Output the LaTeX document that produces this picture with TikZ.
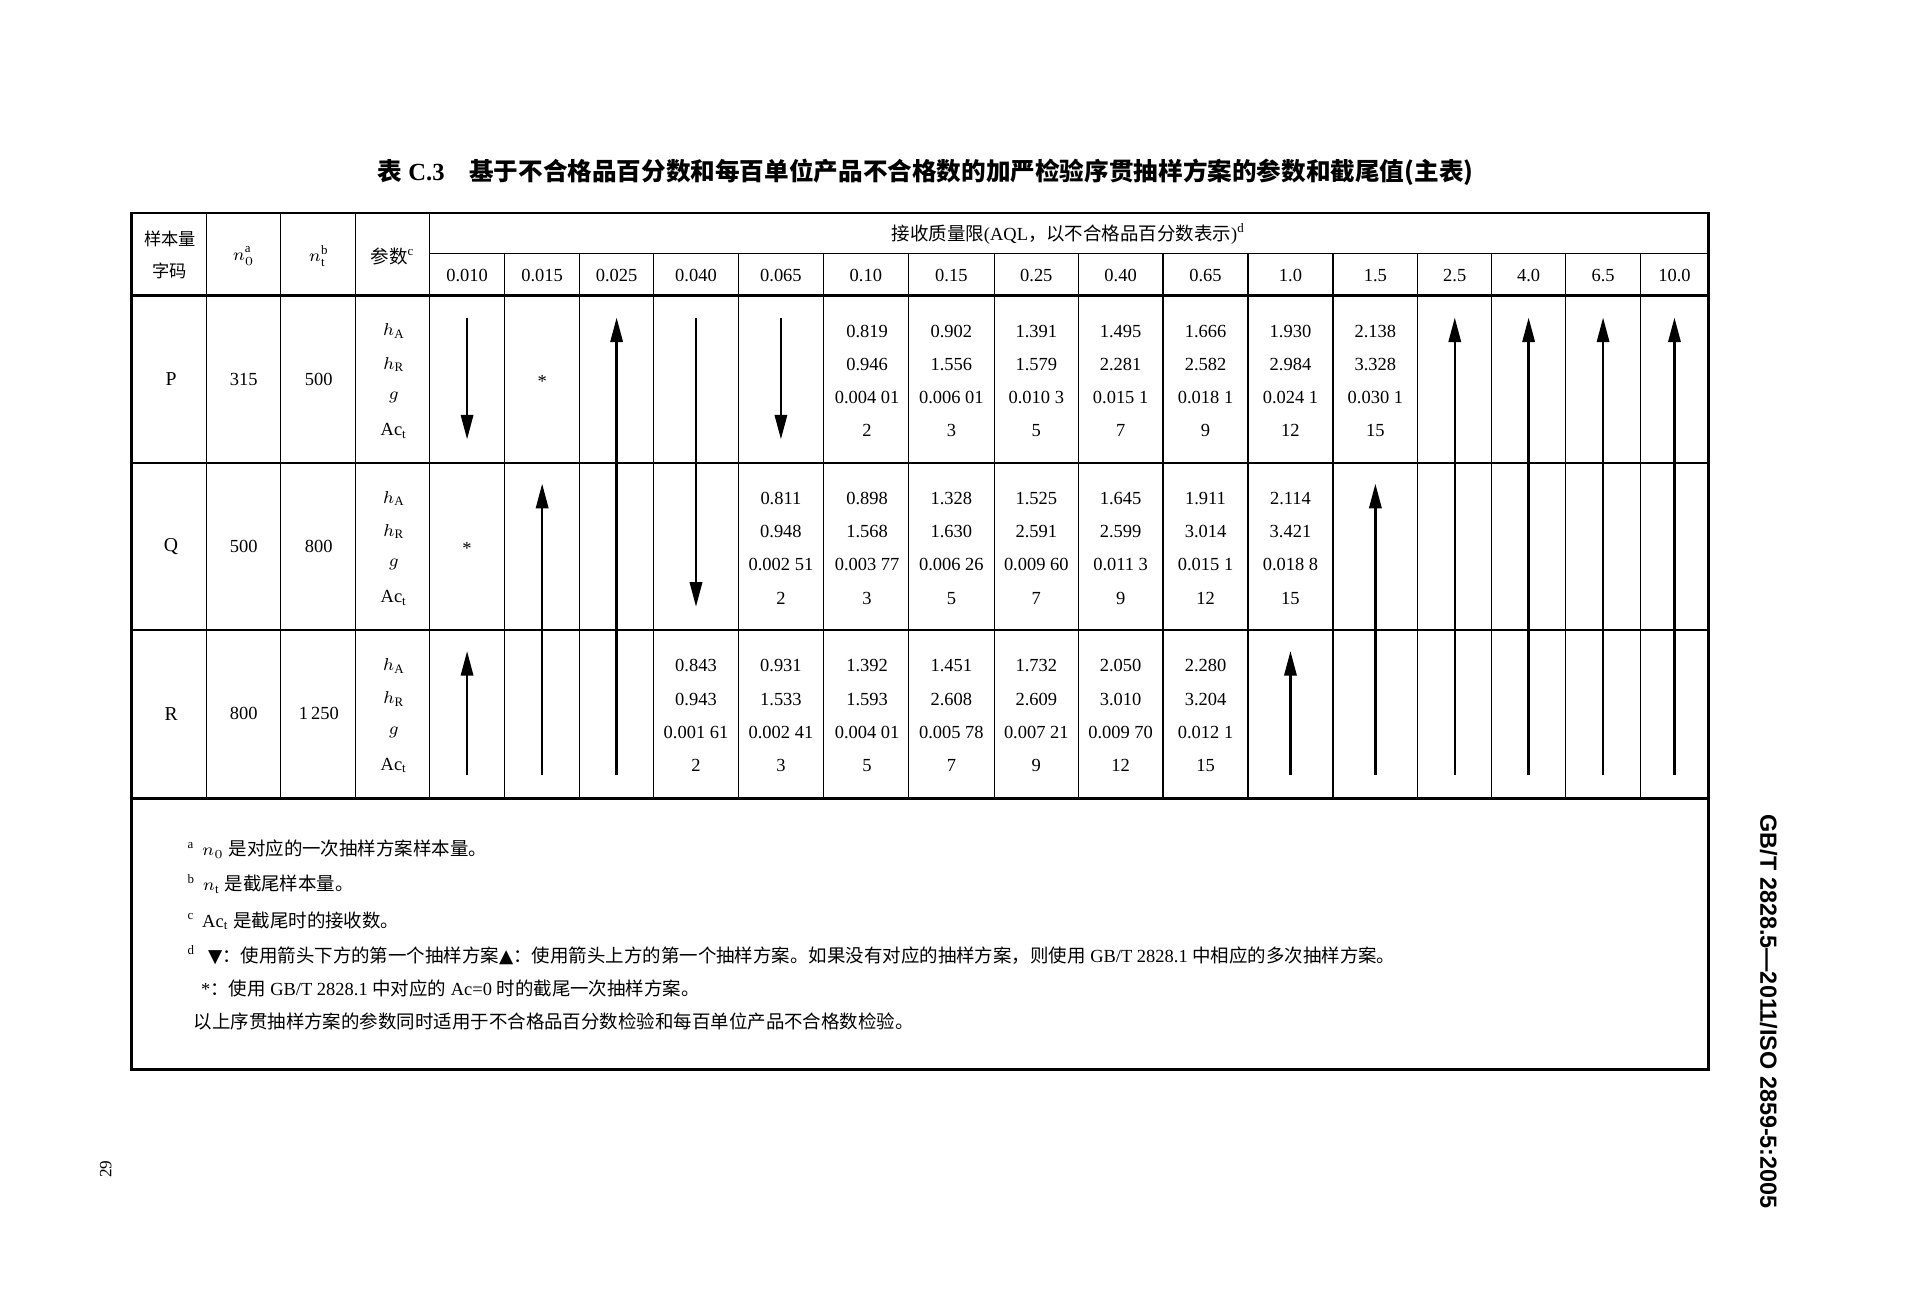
\documentclass[tikz,border=0pt]{standalone}
\usepackage{fontspec}
\setmainfont{Liberation Serif}
\newfontfamily\cjk{Noto Sans CJK SC}
\newfontfamily\symf{DejaVu Sans}
\newfontfamily\hsans{Liberation Sans}
\usetikzlibrary{arrows.meta}
\begin{document}
\begin{tikzpicture}[x=0.5pt,y=-0.5pt,
  thin line/.style={line width=0.5pt},
  thick line/.style={line width=1.1pt},
  cell/.style={inner sep=0pt,font=\fontsize{7.5}{9}\selectfont},
  note/.style={inner sep=0pt,anchor=west,font=\fontsize{7.5}{9}\selectfont},
  arr/.style={line width=1pt,-{Triangle[width=5pt,length=10pt]}}]
\useasboundingbox (0,0) rectangle (1560,1067.6);
% title
\node[inner sep=0pt,font=\fontsize{10}{12}\selectfont\bfseries] (title) at (752,140)
  {{\cjk 表} C.3\quad{\cjk 基于不合格品百分数和每百单位产品不合格数的加严检验序贯抽样方案的参数和截尾值(主表)}};
% grid
\foreach \x in {168,228,289,349} \draw[thin line] (\x,173) -- (\x,649);
\foreach \x in {410,471,531,600,669,738,808,876,945,1014,1083,1152,1212,1272,1333} \draw[thin line] (\x,206) -- (\x,649);
\draw[thin line] (349,206) -- (1388,206);
\draw[thick line] (107,240) -- (1388,240);
\draw[line width=0.8pt] (107,376) -- (1388,376);
\draw[line width=0.8pt] (107,512) -- (1388,512);
\draw[thick line] (107,649) -- (1388,649);
\draw[thick line] (107,173) rectangle (1388,869);
% header
\node[cell,align=center,font=\fontsize{7}{13}\selectfont\cjk] (h1) at (138,207) {样本量\\字码};
\node[cell] (h2) at (198,208) {$n_0^{\mathrm{a}}$};
\node[cell] (h3) at (259,208) {$n_{\mathrm t}^{\mathrm{b}}$};
\node[cell] (h4) at (319,208) {{\cjk 参数}$^{\mathrm c}$};
\node[cell] (h5) at (868,190) {{\cjk 接收质量限}(AQL{\cjk ，以不合格品百分数表示})$^{\mathrm d}$};
\foreach \v [count=\i] in {0.010,0.015,0.025,0.040,0.065,0.10,0.15,0.25,0.40,0.65,1.0,1.5,2.5,4.0,6.5,10.0}{
  \pgfmathsetmacro\xa{{0,349,410,471,531,600,669,738,808,876,945,1014,1083,1152,1212,1272,1333,1388}[\i]}
  \pgfmathsetmacro\xb{{0,349,410,471,531,600,669,738,808,876,945,1014,1083,1152,1212,1272,1333,1388}[\i+1]}
  \node[cell] (aql\i) at ({(\xa+\xb)/2},224) {\v};
}
% rows
\foreach \r/\a/\b/\c/\top in {P/315/500/P/240,Q/500/800/Q/376,R/800/1\,250/R/512}{
  \node[cell,font=\fontsize{8}{9}\selectfont] (code\r) at (139,\top+68) {\r};
  \node[cell] (n0\r) at (198,\top+68) {\a};
  \node[cell] (nt\r) at (259,\top+68) {\b};
  \node[cell] (pa\r) at (320,\top+29) {$h_{\mathrm A}$};
  \node[cell] (pr\r) at (320,\top+56) {$h_{\mathrm R}$};
  \node[cell] (pg\r) at (320,\top+83) {$g$};
  \node[cell] (pc\r) at (320,\top+110) {Ac$_{\mathrm t}$};
}
% data
\foreach \row/\top/\data in {
 P/240/{704.5/0.819/0.946/0.004 01/2, 773/0.902/1.556/0.006 01/3, 842/1.391/1.579/0.010 3/5, 910.5/1.495/2.281/0.015 1/7, 979.5/1.666/2.582/0.018 1/9, 1048.5/1.930/2.984/0.024 1/12, 1117.5/2.138/3.328/0.030 1/15},
 Q/376/{634.5/0.811/0.948/0.002 51/2, 704.5/0.898/1.568/0.003 77/3, 773/1.328/1.630/0.006 26/5, 842/1.525/2.591/0.009 60/7, 910.5/1.645/2.599/0.011 3/9, 979.5/1.911/3.014/0.015 1/12, 1048.5/2.114/3.421/0.018 8/15},
 R/512/{565.5/0.843/0.943/0.001 61/2, 634.5/0.931/1.533/0.002 41/3, 704.5/1.392/1.593/0.004 01/5, 773/1.451/2.608/0.005 78/7, 842/1.732/2.609/0.007 21/9, 910.5/2.050/3.010/0.009 70/12, 979.5/2.280/3.204/0.012 1/15}}{
  \foreach \x/\ha/\hr/\g/\ac [count=\k] in \data {
    \node[cell] (a\row\k) at (\x,\top+29) {\ha};
    \node[cell] (r\row\k) at (\x,\top+56) {\hr};
    \node[cell] (g\row\k) at (\x,\top+83) {\g};
    \node[cell] (c\row\k) at (\x,\top+110) {\ac};
  }
}
% stars
\node[cell] (starP) at (440.5,310) {*};
\node[cell] (starQ) at (379.5,446) {*};
% arrows
\coordinate (d1s) at (379.5,258); \coordinate (d1e) at (379.5,357);
\coordinate (d2s) at (634.5,258); \coordinate (d2e) at (634.5,357);
\coordinate (d3s) at (565.5,258); \coordinate (d3e) at (565.5,493);
\draw[arr] (d1s) -- (d1e);
\draw[arr] (d2s) -- (d2e);
\draw[arr] (d3s) -- (d3e);
\foreach \x/\tip [count=\k] in {501/258,440.5/393,1117.5/393,379.5/529,1048.5/529,1182/258,1242/258,1302.5/258,1360.5/258}{
  \coordinate (us\k) at (\x,630); \coordinate (ue\k) at (\x,\tip);
  \draw[arr] (us\k) -- (ue\k);
}
% notes
\node[note] (na) at (152,690) {$^{\mathrm a}$\, $n_0$ {\cjk 是对应的一次抽样方案样本量。}};
\node[note] (nb) at (152,718) {$^{\mathrm b}$\, $n_{\mathrm t}$ {\cjk 是截尾样本量。}};
\node[note] (nc) at (152,748) {$^{\mathrm c}$\, Ac$_{\mathrm t}$ {\cjk 是截尾时的接收数。}};
\node[note] (nd) at (152,776) {$^{\mathrm d}$\;\, {\symf ▼}{\cjk ：使用箭头下方的第一个抽样方案}{\symf ▲}{\cjk ：使用箭头上方的第一个抽样方案。如果没有对应的抽样方案，则使用} GB/T 2828.1 {\cjk 中相应的多次抽样方案。}};
\node[note] (ne) at (163,803) {*{\cjk ：使用} GB/T 2828.1 {\cjk 中对应的} Ac=0 {\cjk 时的截尾一次抽样方案。}};
\node[note] (nf) at (157,830) {\cjk 以上序贯抽样方案的参数同时适用于不合格品百分数检验和每百单位产品不合格数检验。};
% side texts
\node[inner sep=0pt,rotate=-90,font=\fontsize{9.5}{11}\selectfont\hsans\bfseries] (side) at (1437,822) {GB/T 2828.5—2011/ISO 2859-5:2005};
\node[inner sep=0pt,rotate=90,font=\fontsize{7}{8}\selectfont] (page) at (86,950) {29};
\end{tikzpicture}
\end{document}
